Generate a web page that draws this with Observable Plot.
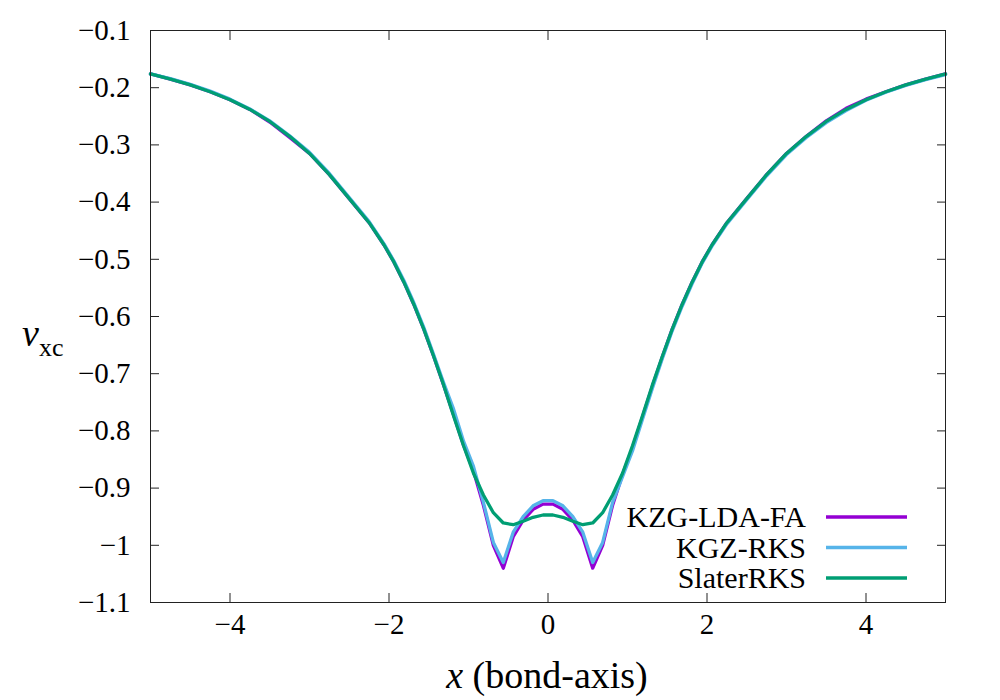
<!DOCTYPE html>
<html><head><meta charset="utf-8">
<script src="https://cdn.jsdelivr.net/npm/d3@7"></script>
<script src="https://cdn.jsdelivr.net/npm/@observablehq/plot@0.6"></script>
<style>
body{margin:0;background:#fff;}
</style>
</head><body><div id="chart"></div>
<script>
// pick an installed serif font (falls back gracefully)
function pickFont(cands) {
  const c = document.createElement("canvas").getContext("2d");
  const sample = "KZG-LDA-FA (bond-axis) 0123456789 mmmwwwiii";
  const base = {};
  for (const g of ["monospace", "sans-serif"]) { c.font = `40px ${g}`; base[g] = c.measureText(sample).width; }
  for (const f of cands) {
    c.font = `40px "${f}", monospace`; const w1 = c.measureText(sample).width;
    c.font = `40px "${f}", sans-serif`; const w2 = c.measureText(sample).width;
    if (Math.abs(w1 - w2) < 0.5 && (Math.abs(w1 - base.monospace) > 0.5 || Math.abs(w2 - base["sans-serif"]) > 0.5)) return `"${f}", serif`;
  }
  return "serif";
}
const FONT = pickFont(["Liberation Serif", "DejaVu Serif", "Noto Serif", "Times New Roman", "Tinos", "FreeSerif", "Nimbus Roman"]);

// x grid (bond axis)
const xGrid = [-5, -4.75, -4.5, -4.25, -4, -3.75, -3.5, -3.25, -3, -2.75, -2.5, -2.25,
  -2.0625, -1.9375, -1.8125, -1.6875, -1.5625, -1.4375, -1.3125, -1.1875, -1.0625, -0.9375,
  -0.8125, -0.6875, -0.5625, -0.4375, -0.3125, -0.1875, -0.0625,
  0.0625, 0.1875, 0.3125, 0.4375, 0.5625, 0.6875, 0.8125,
  0.9375, 1.0625, 1.1875, 1.3125, 1.4375, 1.5625, 1.6875, 1.8125, 1.9375, 2.0625,
  2.25, 2.5, 2.75, 3, 3.25, 3.5, 3.75, 4, 4.25, 4.5, 4.75, 5];

const yKZG = [-0.176, -0.185, -0.195, -0.207, -0.221, -0.238, -0.260, -0.287, -0.315, -0.352, -0.394, -0.436,
  -0.475, -0.505, -0.540, -0.579, -0.622, -0.670, -0.720, -0.772, -0.825, -0.870,
  -0.930, -1.000, -1.040, -0.985, -0.956, -0.937, -0.928,
  -0.928, -0.937, -0.956, -0.985, -1.040, -1.000, -0.930,
  -0.876, -0.830, -0.776, -0.722, -0.671, -0.622, -0.579, -0.540, -0.505, -0.475,
  -0.436, -0.394, -0.352, -0.315, -0.285, -0.258, -0.236, -0.220, -0.207, -0.195, -0.185, -0.176];

const yKGZ = [-0.176, -0.184, -0.194, -0.206, -0.220, -0.237, -0.258, -0.284, -0.313, -0.350, -0.392, -0.434,
  -0.473, -0.503, -0.537, -0.576, -0.619, -0.667, -0.716, -0.762, -0.818, -0.862,
  -0.925, -0.995, -1.030, -0.977, -0.950, -0.931, -0.922,
  -0.922, -0.931, -0.950, -0.977, -1.030, -0.995, -0.925,
  -0.880, -0.835, -0.780, -0.726, -0.674, -0.625, -0.582, -0.543, -0.507, -0.477,
  -0.438, -0.396, -0.354, -0.317, -0.287, -0.261, -0.240, -0.222, -0.208, -0.196, -0.186, -0.177];

const ySlater = [-0.176, -0.185, -0.195, -0.207, -0.221, -0.238, -0.259, -0.285, -0.315, -0.352, -0.394, -0.436,
  -0.475, -0.505, -0.540, -0.579, -0.622, -0.670, -0.720, -0.774, -0.826, -0.874,
  -0.912, -0.943, -0.961, -0.964, -0.958, -0.951, -0.947,
  -0.947, -0.951, -0.958, -0.964, -0.961, -0.943, -0.912,
  -0.874, -0.826, -0.774, -0.720, -0.670, -0.622, -0.579, -0.540, -0.505, -0.475,
  -0.436, -0.394, -0.352, -0.315, -0.285, -0.259, -0.238, -0.221, -0.207, -0.195, -0.185, -0.176];

const seriesNames = ["KZG-LDA-FA", "KGZ-RKS", "SlaterRKS"];
const seriesColors = ["#9400d3", "#56b4e9", "#009e73"];
const xTicks = [-4, -2, 0, 2, 4];
const yTicks = [-1.1, -1, -0.9, -0.8, -0.7, -0.6, -0.5, -0.4, -0.3, -0.2, -0.1];

const rows = [];
[yKZG, yKGZ, ySlater].forEach((ys, i) =>
  xGrid.forEach((x, j) => rows.push({series: seriesNames[i], x, y: ys[j]})));

const fmt = d => (d < 0 ? "\u2212" : "") + String(Math.abs(d));
const TS = 9;
const svg = Plot.plot({
  width: 1000, height: 700,
  marginLeft: 150, marginRight: 55, marginTop: 30, marginBottom: 98,
  style: {fontFamily: FONT, fontSize: "28px", color: "#000", background: "#fff"},
  x: {domain: [-5, 5], axis: null},
  y: {domain: [-1.1, -0.1], axis: null},
  color: {domain: seriesNames, range: seriesColors},
  marks: [
    Plot.axisX(xTicks, {anchor: "bottom", tickSize: TS, dy: -TS, fill: "none", label: null, stroke: "#222"}),
    Plot.axisX(xTicks, {anchor: "top", tickSize: TS, dy: TS, fill: "none", label: null, stroke: "#222"}),
    Plot.axisY(yTicks, {anchor: "left", tickSize: TS, dx: TS, fill: "none", label: null, stroke: "#222"}),
    Plot.axisY(yTicks, {anchor: "right", tickSize: TS, dx: -TS, fill: "none", label: null, stroke: "#222"}),
    Plot.axisX(xTicks, {anchor: "bottom", tickSize: 0, tickPadding: 11, label: null, fontSize: 29, tickFormat: fmt}),
    Plot.axisY(yTicks, {anchor: "left", tickSize: 0, tickPadding: 20, label: null, fontSize: 29, tickFormat: fmt}),
    Plot.line(rows, {x: "x", y: "y", z: "series", stroke: "series", strokeWidth: 3.3}),
    Plot.frame({stroke: "#222", strokeWidth: 1})
  ]
});
document.getElementById("chart").appendChild(svg);
svg.querySelectorAll("text").forEach(t => t.style.fontFamily = FONT);

const s = d3.select(svg);
const leg = s.append("g").style("font-family", FONT).attr("font-size", 30);
seriesNames.forEach((name, i) => {
  const cy = 517 + i * 30.5;
  leg.append("text").attr("x", 806).attr("y", cy + 10).attr("text-anchor", "end").attr("fill", "#000").text(name);
  leg.append("line").attr("x1", 826).attr("x2", 907).attr("y1", cy).attr("y2", cy)
    .attr("stroke", seriesColors[i]).attr("stroke-width", 3.3);
});
const xl = s.append("text").attr("x", 547).attr("y", 688).attr("text-anchor", "middle")
  .style("font-family", FONT).attr("font-size", 38).attr("fill", "#000");
xl.append("tspan").attr("font-style", "italic").text("x");
xl.append("tspan").text(" (bond-axis)");
const yl = s.append("text").attr("x", 22).attr("y", 346).attr("text-anchor", "start")
  .style("font-family", FONT).attr("font-size", 38).attr("fill", "#000");
yl.append("tspan").attr("font-style", "italic").text("v");
yl.append("tspan").attr("font-size", 26).attr("dy", 10).text("xc");
</script>
</body></html>
